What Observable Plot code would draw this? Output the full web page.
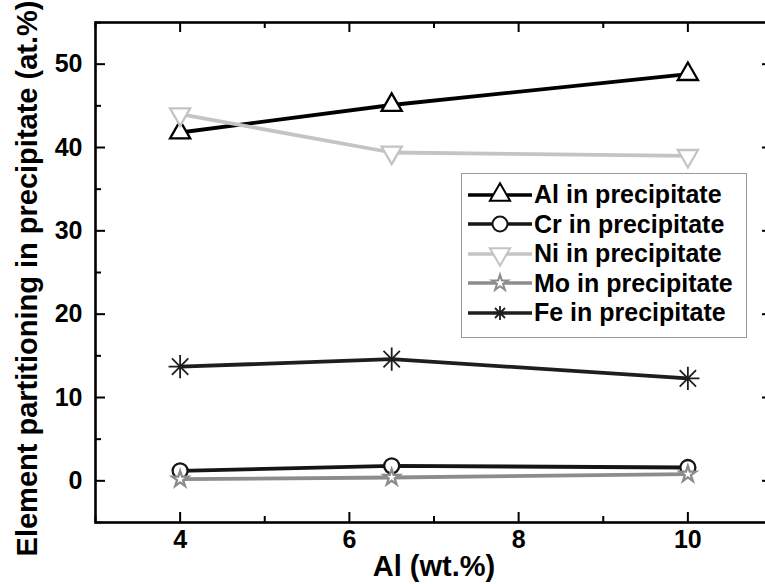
<!DOCTYPE html>
<html>
<head>
<meta charset="utf-8">
<script src="https://cdn.jsdelivr.net/npm/d3@7"></script>
<script src="https://cdn.jsdelivr.net/npm/@observablehq/plot@0.6"></script>
<style>
  html, body { margin: 0; padding: 0; background: #fff; overflow: hidden; }
  #wrap { position: relative; width: 765px; height: 584px; overflow: hidden; }
  #wrap > svg { max-width: none !important; display: block; }
  #legend { position: absolute; left: 461px; top: 173px; width: 286px; height: 165px;
    border: 1px solid #9a9a9a; background: #fff; box-sizing: border-box; padding-top: 6px;
    font-family: "Liberation Sans", Arial, sans-serif; font-weight: bold; font-size: 25px; }
  .row { display: flex; align-items: center; height: 29.5px; }
  .row svg { flex: none; }
  .row span { margin-left: 0px; color: #000; letter-spacing: 0px; white-space: nowrap; }
</style>
</head>
<body>
<div id="wrap"><div id="legend"></div></div>
<script>
// ---- data ----
const alloyAl = [4, 6.5, 10];
const alValues = [41.8, 45.1, 48.8];
const crValues = [1.2, 1.8, 1.6];
const niValues = [44.0, 39.4, 39.0];
const moValues = [0.2, 0.4, 0.8];
const feValues = [13.7, 14.6, 12.3];
const seriesNames = ["Al in precipitate", "Cr in precipitate", "Ni in precipitate", "Mo in precipitate", "Fe in precipitate"];
const xTicks = [4, 6, 8, 10];
const xMinorTicks = [3, 5, 7, 9, 11];
const yTicks = [0, 10, 20, 30, 40, 50];
const yMinorTicks = [-5, 5, 15, 25, 35, 45, 55];
const xTitle = "Al (wt.%)";
const yTitle = "Element partitioning in precipitate (at.%)";

// ---- styles ----
const seriesStyle = [
  {values: alValues, color: "#000000", symbol: "triangle", r: 7.5, rotate: 0},
  {values: crValues, color: "#151515", symbol: "circle", r: 7.5, rotate: 0},
  {values: niValues, color: "#c4c4c4", symbol: "triangle", r: 7.5, rotate: 180},
  {values: moValues, color: "#8c8c8c", symbol: "star", r: 5, rotate: 0},
  {values: feValues, color: "#1e1e1e", symbol: "asterisk8", r: 7, rotate: 0}
];

const rows = [];
seriesStyle.forEach((s, i) => s.values.forEach((v, j) => rows.push({series: seriesNames[i], x: alloyAl[j], y: v, k: i})));

const W = 780, H = 584, mL = 95, mR = 8, mT = 22, mB = 62;
const plotW = W - mL - mR, plotH = H - mT - mB;

const marks = [];
seriesStyle.forEach((s, i) => {
  marks.push(Plot.line(rows.filter(d => d.k === i), {x: "x", y: "y", stroke: s.color, strokeWidth: 3.8}));
});
seriesStyle.forEach((s, i) => {
  const data = rows.filter(d => d.k === i);
  if (s.symbol === "asterisk8") {
    marks.push(Plot.dot(data, {x: "x", y: "y", symbol: "plus", r: 7.5, stroke: s.color, strokeWidth: 1.8}));
    marks.push(Plot.dot(data, {x: "x", y: "y", symbol: "times", r: 7.5, stroke: s.color, strokeWidth: 1.8}));
  } else {
    marks.push(Plot.dot(data, {x: "x", y: "y", symbol: s.symbol, r: s.r, rotate: s.rotate, fill: "white", stroke: s.color, strokeWidth: 2.3}));
  }
});
// inward ticks
marks.push(Plot.ruleX(xTicks, {x: d => d, insetTop: plotH - 10, strokeWidth: 2}));
marks.push(Plot.ruleX(xMinorTicks, {x: d => d, insetTop: plotH - 6, strokeWidth: 2}));
marks.push(Plot.ruleX(xTicks, {x: d => d, insetBottom: plotH - 10, strokeWidth: 2}));
marks.push(Plot.ruleX(xMinorTicks, {x: d => d, insetBottom: plotH - 6, strokeWidth: 2}));
marks.push(Plot.ruleY(yTicks, {y: d => d, insetRight: plotW - 10, strokeWidth: 2}));
marks.push(Plot.ruleY(yMinorTicks, {y: d => d, insetRight: plotW - 6, strokeWidth: 2}));
marks.push(Plot.ruleY(yTicks, {y: d => d, insetLeft: plotW - 10, strokeWidth: 2}));
marks.push(Plot.ruleY(yMinorTicks, {y: d => d, insetLeft: plotW - 6, strokeWidth: 2}));
marks.push(Plot.frame({stroke: "#000", strokeWidth: 2.6}));
// axes labels (tick labels as text marks for full font control)
marks.push(Plot.text(xTicks, {x: d => d, frameAnchor: "bottom", dy: 25, text: d => String(d), fontSize: 25, fontWeight: "bold", textAnchor: "middle"}));
marks.push(Plot.text(yTicks, {y: d => d, frameAnchor: "left", dx: -13, text: d => String(d), fontSize: 25, fontWeight: "bold", textAnchor: "end"}));
marks.push(Plot.text([xTitle], {frameAnchor: "bottom", dy: 53, text: d => d, fontSize: 29, fontWeight: "bold", textAnchor: "middle"}));
marks.push(Plot.text([yTitle], {frameAnchor: "left", dx: -68, dy: 6, rotate: -90, text: d => d, fontSize: 29, fontWeight: "bold", textAnchor: "middle"}));

const chart = Plot.plot({
  width: W, height: H,
  marginLeft: mL, marginRight: mR, marginTop: mT, marginBottom: mB,
  x: {domain: [3, 11], axis: null},
  y: {domain: [-5, 55], axis: null},
  style: {fontFamily: "'Liberation Sans', Arial, sans-serif", color: "#000", background: "#fff", overflow: "visible", maxWidth: "none"},
  marks
});
const wrap = document.getElementById("wrap");
wrap.insertBefore(chart, wrap.firstChild);

// ---- legend ----
const legend = d3.select("#legend");
const symMap = {triangle: d3.symbolTriangle, circle: d3.symbolCircle, star: d3.symbolStar};
seriesStyle.forEach((s, i) => {
  const row = legend.append("div").attr("class", "row");
  const svg = row.append("svg").attr("width", 72).attr("height", 28);
  svg.append("line").attr("x1", 6).attr("x2", 70).attr("y1", 14).attr("y2", 14)
    .attr("stroke", s.color).attr("stroke-width", 3.4);
  const g = svg.append("g").attr("transform", `translate(38,14) rotate(${s.rotate})`);
  if (s.symbol === "asterisk8") {
    const L = 7;
    [[-L,0,L,0],[0,-L,0,L],[-5,-5,5,5],[-5,5,5,-5]].forEach(([a,b,c,e]) =>
      g.append("line").attr("x1", a).attr("y1", b).attr("x2", c).attr("y2", e).attr("stroke", s.color).attr("stroke-width", 1.8));
  } else {
    g.append("path").attr("d", d3.symbol(symMap[s.symbol], Math.PI * s.r * s.r)())
      .attr("fill", "white").attr("stroke", s.color).attr("stroke-width", 2);
  }
  row.append("span").text(seriesNames[i]);
});
</script>
</body>
</html>
